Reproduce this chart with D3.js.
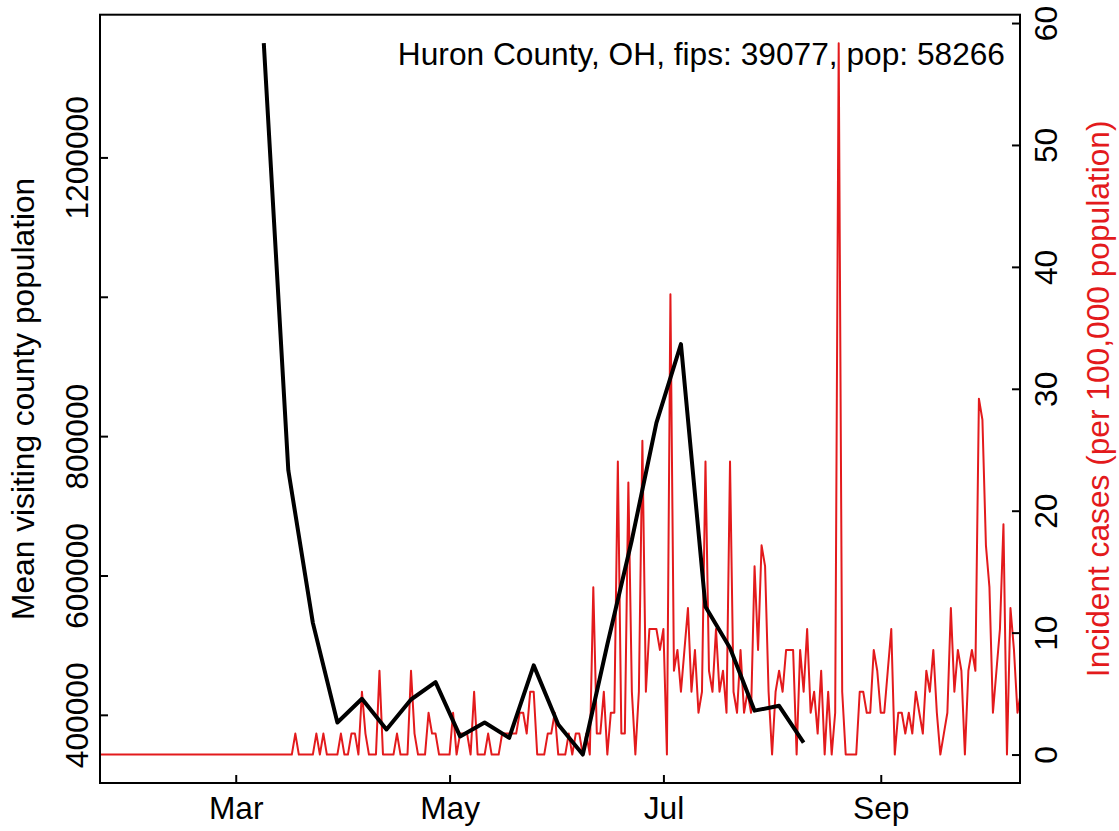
<!DOCTYPE html>
<html><head><meta charset="utf-8">
<script src="https://cdn.jsdelivr.net/npm/d3@7"></script>
<style>body{margin:0;background:#fff} text{font-family:"Liberation Sans",Arial,sans-serif}</style>
</head><body><svg id="c" width="1119" height="831"></svg>
<script>
const titleText = "Huron County, OH, fips: 39077, pop: 58266";
const leftAxisTitle = "Mean visiting county population";
const rightAxisTitle = "Incident cases (per 100,000 population)";
const xTickLabels = ["Mar", "May", "Jul", "Sep"];
const xTickDates = ["2020-03-01", "2020-05-01", "2020-07-01", "2020-09-01"];
const xLimits = ["2020-02-01", "2020-10-01"];
const leftTicks = [400000, 600000, 800000, 1000000, 1200000];
const leftTickLabels = ["400000", "600000", "800000", "", "1200000"];
const rightTicks = [0, 10, 20, 30, 40, 50, 60];

// weekly mean visiting county population (black line)
const visitDates = ["2020-03-09","2020-03-16","2020-03-23","2020-03-30","2020-04-06","2020-04-13","2020-04-20","2020-04-27",
  "2020-05-04","2020-05-11","2020-05-18","2020-05-25","2020-06-01","2020-06-08","2020-06-15","2020-06-22","2020-06-29",
  "2020-07-06","2020-07-13","2020-07-20","2020-07-27","2020-08-03","2020-08-10"];
const visitValues = [1364000, 751000, 532000, 389000, 423000, 379000, 422000, 447000,
  369000, 389000, 367000, 471000, 386000, 343000, 501000, 651000, 819000,
  932000, 555000, 496000, 406000, 413000, 360000];

// daily incident cases per 100,000 (red line), starting at caseStart
const caseStart = "2020-01-15";
const incidence = [
  // Jan 15-31
  0,0,0,0,0,0,0,0,0,0,0,0,0,0,0,0,0,
  // Feb
  0,0,0,0,0,0,0,0,0,0,0,0,0,0,0,0,0,0,0,0,0,0,0,0,0,0,0,0,0,
  // Mar
  0,0,0,0,0,0,0,0,0,0,0,0,0,0,0,0,0,1.72,0,0,0,0,0,1.72,0,1.72,0,0,0,0,1.72,
  // Apr
  0,0,1.72,1.72,0,5.15,1.72,0,0,0,6.87,0,0,0,0,1.72,0,0,0,6.87,1.72,0,0,0,3.43,1.72,1.72,0,0,0,
  // May
  0,3.43,0,1.72,1.72,1.72,0,5.15,0,0,0,1.72,0,0,0,1.72,1.72,1.72,1.72,1.72,3.43,3.43,1.72,5.15,5.15,0,0,0,1.72,1.72,3.43,
  // Jun
  0,0,0,1.72,0,1.72,1.72,0,1.72,0,13.73,1.72,1.72,5.15,0,3.43,3.43,24.03,1.72,1.72,22.31,5.15,0,5.15,25.74,5.15,10.3,10.3,10.3,8.58,
  // Jul
  10.3,0,37.76,6.87,8.58,5.15,8.58,12.01,5.15,8.58,3.43,5.15,24.03,6.87,5.15,10.3,5.15,6.87,3.43,24.03,5.15,3.43,8.58,3.43,5.15,3.43,15.45,8.58,17.16,15.45,5.15,
  // Aug
  0,5.15,6.87,5.15,8.58,8.58,8.58,0,8.58,5.15,10.3,3.43,5.15,1.72,6.87,0,5.15,0,3.43,58.35,5.15,0,0,0,0,5.15,5.15,3.43,3.43,8.58,6.87,
  // Sep
  3.43,3.43,6.87,10.3,0,3.43,3.43,1.72,3.43,1.72,5.15,3.43,1.72,6.87,5.15,8.58,3.43,0,1.72,3.43,12.01,5.15,8.58,6.87,0,6.87,8.58,6.87,29.18,27.46,
  // Oct
  17.16,13.73,3.43,6.87,10.3,18.88,0,12.01,8.58,3.43,5.15
];

const W = 1119, H = 831;
const plot = {left: 100, right: 1020, top: 14.7, bottom: 783};
const FS = 31.7;
const RED = "#e31a1c";

const parse = d3.utcParse("%Y-%m-%d");
const pad = (a, b) => { const r = (b - a) * 0.04; return [a - r, b + r]; };

const svg = d3.select("#c");
svg.append("rect").attr("width", W).attr("height", H).attr("fill", "#fff");

const xl = xLimits.map(parse);
const xd = pad(+xl[0], +xl[1]);
const x = d3.scaleUtc().domain([new Date(xd[0]), new Date(xd[1])]).range([plot.left, plot.right]);

const vExt = d3.extent(visitValues);
const yL = d3.scaleLinear().domain(pad(vExt[0], vExt[1])).range([plot.bottom, plot.top]);
const iExt = d3.extent(incidence);
const yR = d3.scaleLinear().domain(pad(iExt[0], iExt[1])).range([plot.bottom, plot.top]);

const start = parse(caseStart);
const caseData = incidence.map((v, i) => ({date: d3.utcDay.offset(start, i), v}));
const visitData = visitDates.map((d, i) => ({date: parse(d), v: visitValues[i]}));

svg.append("clipPath").attr("id", "clip").append("rect")
  .attr("x", plot.left).attr("y", plot.top)
  .attr("width", plot.right - plot.left).attr("height", plot.bottom - plot.top);

// red line
svg.append("path").datum(caseData)
  .attr("clip-path", "url(#clip)")
  .attr("fill", "none").attr("stroke", RED).attr("stroke-width", 2).attr("stroke-linejoin", "round")
  .attr("d", d3.line().x(d => x(d.date)).y(d => yR(d.v)));

// black line
svg.append("path").datum(visitData)
  .attr("clip-path", "url(#clip)")
  .attr("fill", "none").attr("stroke", "#000").attr("stroke-width", 4).attr("stroke-linejoin", "round")
  .attr("d", d3.line().x(d => x(d.date)).y(d => yL(d.v)));

// frame
svg.append("rect").attr("x", plot.left).attr("y", plot.top)
  .attr("width", plot.right - plot.left).attr("height", plot.bottom - plot.top)
  .attr("fill", "none").attr("stroke", "#000").attr("stroke-width", 2);

function styleAxis(g) {
  g.select(".domain").remove();
  g.selectAll(".tick line").attr("stroke", "#000").attr("stroke-width", 2);
  g.selectAll("text").attr("font-size", FS).attr("fill", "#000")
    .attr("font-family", "'Liberation Sans', Arial, sans-serif");
}

// left axis
const gL = svg.append("g").attr("transform", `translate(${plot.left},0)`)
  .call(d3.axisLeft(yL).tickValues(leftTicks).tickSize(-8).tickFormat((d, i) => leftTickLabels[i]));
styleAxis(gL);
gL.selectAll("text").attr("x", null).attr("dy", null).attr("text-anchor", "middle")
  .attr("transform", "translate(-12,0) rotate(-90)");

// right axis
const gR = svg.append("g").attr("transform", `translate(${plot.right},0)`)
  .call(d3.axisRight(yR).tickValues(rightTicks).tickSize(-8).tickFormat(d3.format("d")));
styleAxis(gR);
gR.selectAll("text").attr("x", null).attr("dy", null).attr("text-anchor", "middle")
  .attr("transform", "translate(37,0) rotate(-90)");

// bottom axis
const gB = svg.append("g").attr("transform", `translate(0,${plot.bottom})`)
  .call(d3.axisBottom(x).tickValues(xTickDates.map(parse)).tickSize(-8).tickFormat((d, i) => xTickLabels[i]));
styleAxis(gB);
gB.selectAll("text").attr("y", 36).attr("dy", null).attr("text-anchor", "middle");

// titles
svg.append("text").attr("transform", `translate(34,${(plot.top + plot.bottom) / 2}) rotate(-90)`)
  .attr("text-anchor", "middle").attr("font-size", FS).attr("fill", "#000").text(leftAxisTitle);
svg.append("text").attr("transform", `translate(1109,${(plot.top + plot.bottom) / 2}) rotate(-90)`)
  .attr("text-anchor", "middle").attr("font-size", FS).attr("fill", RED).text(rightAxisTitle);
svg.append("text").attr("x", 1005).attr("y", 65).attr("text-anchor", "end")
  .attr("font-size", FS).attr("fill", "#000").text(titleText);
</script>
</body></html>
